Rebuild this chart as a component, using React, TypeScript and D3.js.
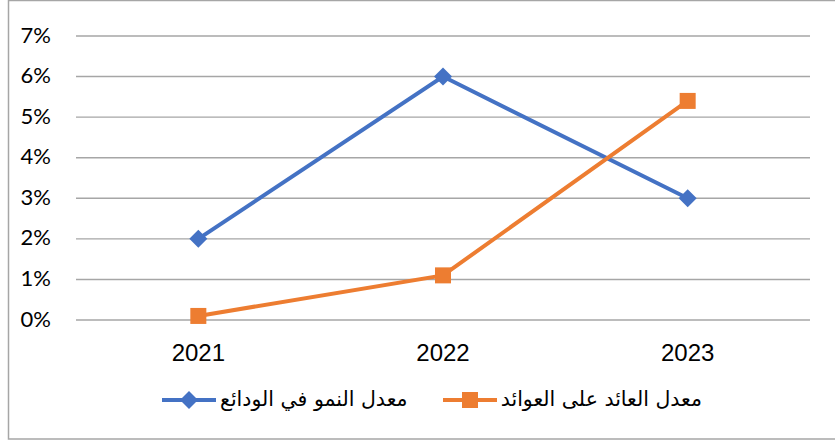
import * as d3 from "d3";

const years = ["2021", "2022", "2023"];
const depositGrowth = [0.02, 0.06, 0.03];
const returnRate = [0.001, 0.011, 0.054];
const yTicks = [0, 0.01, 0.02, 0.03, 0.04, 0.05, 0.06, 0.07];
const seriesNames = ["معدل النمو في الودائع", "معدل العائد على العوائد"];
const seriesColors = ["#4472C4", "#ED7D31"];

const W = 835,
  H = 441;

export default function App() {
  const x = d3.scalePoint<string>().domain(years).range([76, 810]).padding(0.5);
  const y = d3.scaleLinear().domain([0, 0.07]).range([320, 36]);
  const line = d3
    .line<number>()
    .x((d, i) => x(years[i]) as number)
    .y((d) => y(d));
  const fmt = d3.format(".0%");
  const series = [depositGrowth, returnRate];
  const legendFont = "'DejaVu Sans', 'Liberation Sans', sans-serif";

  return (
    <svg
      width={W}
      height={H}
      style={{ position: "absolute", left: 0, top: 0, background: "#fff" }}
    >
      <rect x={8.5} y={0.5} width={W + 10} height={438.5} fill="#fff" stroke="#a6a6a6" strokeWidth={1.5} />

      {/* grid */}
      {yTicks.map((t) => (
        <line key={t} x1={76} x2={810} y1={y(t)} y2={y(t)} stroke="#a6a6a6" strokeWidth={1.4} />
      ))}

      {/* y labels */}
      {yTicks.map((t) => (
        <text
          key={"l" + t}
          x={51}
          y={y(t) + 1}
          textAnchor="end"
          dominantBaseline="middle"
          fontFamily="Lato, 'Open Sans', sans-serif"
          fontSize={22}
          fill="#000"
        >
          {fmt(t)}
        </text>
      ))}

      {/* x labels */}
      {years.map((yr) => (
        <text
          key={yr}
          x={x(yr)}
          y={361}
          textAnchor="middle"
          fontFamily="'Liberation Sans', Arial, sans-serif"
          fontSize={24}
          fill="#000"
        >
          {yr}
        </text>
      ))}

      {/* lines */}
      {series.map((s, si) => (
        <path key={si} d={line(s) || ""} fill="none" stroke={seriesColors[si]} strokeWidth={4} />
      ))}

      {/* markers */}
      {depositGrowth.map((d, i) => {
        const cx = x(years[i]) as number,
          cy = y(d);
        return (
          <path
            key={"m0" + i}
            d={`M${cx},${cy - 9}L${cx + 9},${cy}L${cx},${cy + 9}L${cx - 9},${cy}Z`}
            fill={seriesColors[0]}
          />
        );
      })}
      {returnRate.map((d, i) => {
        const cx = x(years[i]) as number,
          cy = y(d);
        return <rect key={"m1" + i} x={cx - 8} y={cy - 8} width={16} height={16} fill={seriesColors[1]} />;
      })}

      {/* legend */}
      <g>
        <line x1={162} x2={216} y1={400} y2={400} stroke={seriesColors[0]} strokeWidth={4} />
        <path d={`M189,391L198,400L189,409L180,400Z`} fill={seriesColors[0]} />
        <text
          x={220}
          y={400}
          textAnchor="start"
          dominantBaseline="middle"
          fontFamily={legendFont}
          fontSize={20.5}
          fill="#000"
        >
          {seriesNames[0]}
        </text>
        <line x1={443} x2={497} y1={400} y2={400} stroke={seriesColors[1]} strokeWidth={4} />
        <rect x={462} y={392} width={16} height={16} fill={seriesColors[1]} />
        <text
          x={702}
          y={400}
          textAnchor="end"
          dominantBaseline="middle"
          fontFamily={legendFont}
          fontSize={20.5}
          fill="#000"
        >
          {seriesNames[1]}
        </text>
      </g>
    </svg>
  );
}
